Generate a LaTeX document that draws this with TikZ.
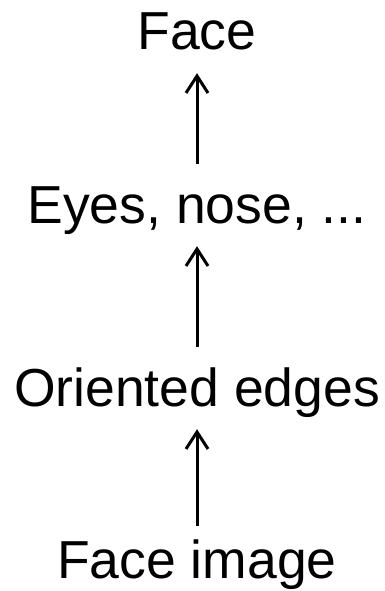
\documentclass[tikz,border=0pt]{standalone}
\usepackage{fontspec}
\setmainfont{Liberation Sans}
\usetikzlibrary{arrows.meta}

\tikzset{
  level/.style={font=\fontsize{53.5}{60}\selectfont, inner sep=0pt,
                text height=38pt, text depth=11pt, anchor=base},
  up/.style={line width=3pt, -{Straight Barb[length=17pt,width=22pt]},
             shorten >=12pt, shorten <=21pt}
}

\begin{document}
\begin{tikzpicture}[x=1pt,y=-1pt]

    % Frame of the picture
    \useasboundingbox (0,0) rectangle (385,591);

    % Levels, top to bottom
    \node[level] (face)  at (197,50)  {Face};
    \node[level] (parts) at (197,223) {Eyes, nose, ...};
    \node[level] (edges) at (197,406) {Oriented edges};
    \node[level] (img)   at (197,578) {Face image};

    % Arrows upwards
    \draw[up] (parts) -- (face);
    \draw[up] (edges) -- (parts);
    \draw[up, shorten <=14pt] (img) -- (edges);

\end{tikzpicture}
\end{document}
